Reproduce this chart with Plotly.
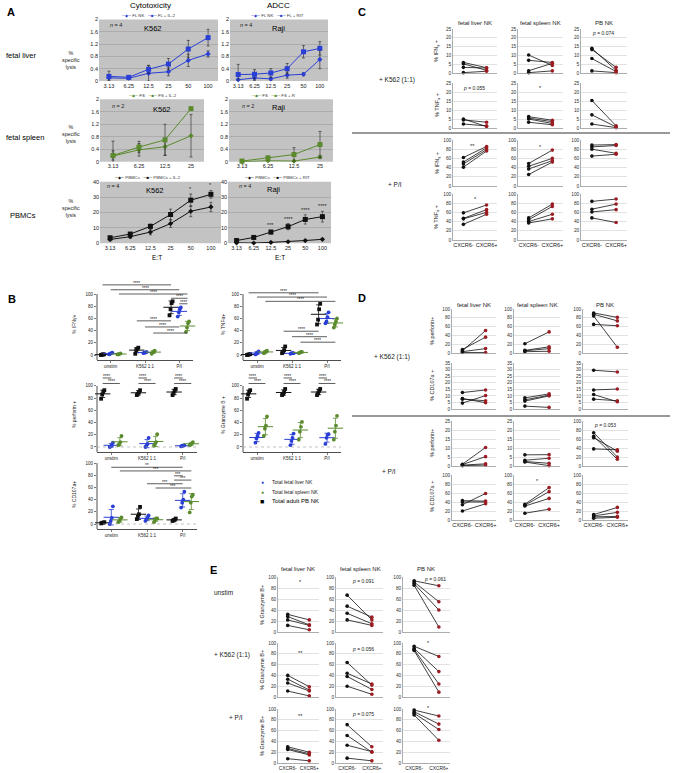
import numpy as np
import plotly.graph_objects as go

W, H = 673, 773
FONT = "Liberation Sans, Arial, sans-serif"
BLUE = "#2a3fd6"
GREEN = "#5a8a2c"
RED = "#9b1c22"
GRAYBG = "#c3c3c3"

# ---------------- Panel A data ----------------
ET_LABELS = ["3.13", "6.25", "12.5", "25", "50", "100"]
FL_K562_NK = [0.10, 0.09, 0.25, 0.30, 0.67, 0.88]
FL_K562_NK_SD = [0.08, 0.04, 0.25, 0.13, 0.20, 0.10]
FL_K562_IL2 = [0.15, 0.12, 0.38, 0.55, 1.04, 1.41]
FL_K562_IL2_SD = [0.17, 0.05, 0.13, 0.18, 0.28, 0.27]
FL_RAJI_NK = [0.04, 0.10, 0.07, 0.19, 0.22, 0.70]
FL_RAJI_NK_SD = [0.04, 0.08, 0.05, 0.10, 0.05, 0.30]
FL_RAJI_RIT = [0.21, 0.22, 0.26, 0.40, 0.95, 1.06]
FL_RAJI_RIT_SD = [0.33, 0.15, 0.14, 0.17, 0.20, 0.22]
FS_K562_NK = [0.18, 0.38, 0.48, 0.83]
FS_K562_NK_SD = [0.48, 0.20, 0.27, 0.68]
FS_K562_IL2 = [0.20, 0.47, 0.70, 1.70]
FS_K562_IL2_SD = [0.15, 0.18, 0.50, 0.0]
FS_RAJI_NK = [0.00, 0.03, 0.02, 0.15]
FS_RAJI_NK_SD = [0.01, 0.03, 0.02, 0.05]
FS_RAJI_R = [0.02, 0.12, 0.23, 0.55]
FS_RAJI_R_SD = [0.02, 0.06, 0.22, 0.42]
PB_K562 = [2.5, 4.3, 7.3, 12.8, 20.8, 23.6]
PB_K562_SD = [1.0, 1.0, 1.8, 2.5, 3.5, 3.0]
PB_K562_IL2 = [3.6, 6.0, 11.0, 18.7, 28.0, 31.8]
PB_K562_IL2_SD = [1.0, 1.0, 1.5, 3.5, 4.0, 2.5]
PB_RAJI = [0.3, 0.2, 0.6, 1.0, 1.8, 2.6]
PB_RAJI_SD = [0.3, 0.2, 0.3, 0.4, 0.4, 0.5]
PB_RAJI_RIT = [1.8, 3.8, 7.3, 10.8, 15.5, 17.3]
PB_RAJI_RIT_SD = [0.8, 0.8, 1.2, 2.0, 3.0, 3.5]
PB_K562_STARS = ["", "", "", "", "*", "*"]
PB_RAJI_STARS = ["", "", "***", "****", "****", "****"]

# ---------------- Panel B data ----------------
B_CATS = ["unstim", "K562 1:1", "P/I"]
IFN_PB = [[0, 0.5, 1, 1], [2, 8, 10, 12], [65, 75, 85, 88]]
IFN_FL = [[1, 2, 3, 4], [3, 4, 4, 5], [63, 70, 75, 78]]
IFN_FS = [[1, 1, 2, 2.5], [2, 4, 6, 7], [38, 45, 52, 55]]
TNF_PB = [[0, 0.5, 1, 1.5], [3, 5, 8, 14], [50, 58, 75, 84]]
TNF_FL = [[1, 2, 4, 6], [2, 3, 3, 3], [52, 55, 62, 70]]
TNF_FS = [[3, 4, 6, 7], [3, 4, 5, 5], [45, 50, 55, 60]]
PERF_PB = [[79, 86, 90, 93], [85, 87, 90, 93], [85, 88, 92, 95]]
PERF_FL = [[0, 1, 3, 7], [0, 2, 5, 15], [1, 2, 2, 3]]
PERF_FS = [[3, 5, 8, 18], [2, 5, 8, 21], [3, 4, 6, 8]]
GZB_PB = [[79, 86, 90, 93], [85, 87, 90, 95], [85, 88, 92, 95]]
GZB_FL = [[7, 14, 18, 23], [3, 10, 15, 22], [5, 15, 20, 21]]
GZB_FS = [[18, 30, 35, 50], [12, 25, 33, 41], [12, 25, 35, 51]]
CD107_PB = [[1, 2, 2, 3], [8, 12, 16, 28], [5, 6, 7, 9]]
CD107_FL = [[0, 5, 10, 29], [5, 8, 10, 14], [27, 35, 40, 53]]
CD107_FS = [[3, 5, 8, 11], [3, 7, 9, 9], [19, 35, 45, 48]]
# (cat1, group1, cat2, group2, bar height, label)
IFN_SIG = [(0, 0, 2, 0, 115, "****"), (0, 1, 2, 1, 107, "****"), (0, 2, 2, 2, 100, "****"),
           (2, 0, 2, 2, 93, "****"), (2, 1, 2, 2, 84, "****"), (1, 0, 2, 0, 56, "****"),
           (1, 1, 2, 1, 46, "****"), (1, 2, 2, 2, 36, "****")]
TNF_SIG = [(0, 0, 2, 0, 102, "****"), (0, 1, 2, 1, 95, "****"), (0, 2, 2, 2, 88, "****"),
           (1, 0, 2, 0, 39, "****"), (1, 1, 2, 1, 30, "****"), (1, 2, 2, 2, 21, "****")]
PAIR_SIG = [(c, 0, c, g, h, "****") for c in range(3) for g, h in ((1, 113), (2, 104))]
CD107_SIG = [(0, 1, 2, 1, 93, "**"), (0, 2, 2, 2, 87, "***"), (2, 0, 2, 1, 79, "***"),
             (2, 0, 2, 2, 72, "***"), (1, 1, 2, 1, 66, "***"), (1, 2, 2, 2, 59, "***")]

# ---------------- Panels C/D/E data (columns: fetal liver, fetal spleen, PB) ----------------
C_IFN_K562_NEG = [[6.0, 5.2, 3.2, 0.2], [10.2, 7.2, 1.3, 0.2], [14.0, 13.3, 8.2, 1.2]]
C_IFN_K562_POS = [[3.0, 1.5, 2.8, 1.0], [4.3, 6.0, 5.5, 1.2], [1.5, 3.2, 0.8, 0.2]]
C_TNF_K562_NEG = [[5.0, 4.5, 2.2], [6.3, 5.5, 5.0, 3.2], [15.3, 7.3, 2.2]]
C_TNF_K562_POS = [[0.8, 3.2, 1.2], [4.3, 3.5, 2.5, 1.8], [1.2, 0.6, 0.2]]
C_IFN_PI_NEG = [[62, 52, 48, 41], [49, 43, 37, 25], [89, 85, 80, 65]]
C_IFN_PI_POS = [[86, 83, 79, 76], [78, 60, 55, 52], [90, 88, 71, 69]]
C_TNF_PI_NEG = [[59, 47, 46, 34], [48, 44, 40, 37], [84, 67, 61, 48]]
C_TNF_PI_POS = [[76, 66, 60, 56], [78, 73, 56, 46], [89, 78, 66, 38]]

D_PERF_K562_NEG = [[5, 8, 3, 1], [21, 6, 5, 3], [91, 88, 84, 65]]
D_PERF_K562_POS = [[51, 36, 10, 1], [48, 14, 10, 4], [81, 73, 13, 62]]
D_CD107_K562_NEG = [[12.5, 8.0, 7.5, 4.5], [8.5, 7.0, 6.0, 2.2], [29.5, 14.5, 11.0, 7.5]]
D_CD107_K562_POS = [[14.5, 4.8, 6.3, 10.2], [11.5, 10.5, 10.0, 1.2], [28.2, 15.2, 5.5, 6.3]]
D_PERF_PI_NEG = [[1.0, 0.8, 0.5, 0.2], [6.2, 3.2, 2.5, 2.2], [74, 66, 63, 38]]
D_PERF_PI_POS = [[10.3, 5.2, 1.2, 0.5], [6.3, 4.3, 1.5, 0.2], [20, 15, 33, 36]]
D_CD107_PI_NEG = [[43, 40, 34, 20], [35, 33, 31, 15], [12, 9, 7, 4]]
D_CD107_PI_POS = [[42, 40, 59, 36], [72, 63, 48, 24], [28, 17, 8, 6]]

E_UN_NEG = [[32, 28, 22, 12], [67, 47, 34, 22], [93, 91, 88, 85]]
E_UN_POS = [[22, 13, 12, 4], [22, 27, 15, 12], [84, 55, 40, 9]]
E_K562_NEG = [[40, 33, 26, 11], [64, 44, 38, 20], [94, 90, 88, 86]]
E_K562_POS = [[19, 13, 11, 2], [22, 24, 14, 5], [75, 47, 24, 9]]
E_PI_NEG = [[30, 27, 25, 8], [71, 51, 33, 9], [98, 95, 92, 89]]
E_PI_POS = [[20, 17, 15, 4], [30, 20, 21, 4], [87, 72, 62, 42]]

PAIR_LABELS = ["CXCR6-", "CXCR6+"]
COL_TITLES = ["fetal liver NK", "fetal spleen NK", "PB NK"]

# ---------------- helpers ----------------
fig = go.Figure()
layout_axes = {}
shapes = []
annotations = []
_n = [0]


def px(x):
    return x / W


def py(y):
    return 1 - y / H


def new_axes(x0, x1, ytop, ybot, xkw, ykw):
    _n[0] += 1
    n = _n[0]
    s = "" if n == 1 else str(n)
    base = dict(automargin=False, fixedrange=True, zeroline=False, tickangle=0)
    layout_axes["xaxis" + s] = dict(domain=[px(x0), px(x1)], anchor="y" + s, **base, **xkw)
    layout_axes["yaxis" + s] = dict(domain=[py(ybot), py(ytop)], anchor="x" + s, **base, **ykw)
    return "x" + s, "y" + s


def txt(x, y, s, size=6, xanchor="center", angle=0, color="#1a1a1a", bold=False):
    if bold:
        s = "<b>" + s + "</b>"
    annotations.append(dict(xref="paper", yref="paper", x=px(x), y=py(y), text=s, showarrow=False,
                            xanchor=xanchor, yanchor="middle", textangle=angle,
                            font=dict(size=size, color=color, family=FONT)))


def hline(x0, x1, y, color="#777", width=1.5):
    shapes.append(dict(type="line", xref="paper", yref="paper", x0=px(x0), x1=px(x1), y0=py(y), y1=py(y),
                       line=dict(color=color, width=width)))


# ---------------- Panel A ----------------
def panel_a(x0, x1, ytop, ybot, ymax, dtick, labels, s1, s1sd, s2, s2sd, color, stars=None):
    xr, yr = new_axes(x0, x1, ytop, ybot,
                      dict(range=[-0.5, len(labels) - 0.5], tickvals=list(range(len(labels))), ticktext=labels,
                           showgrid=False, showline=False, ticks="", tickfont=dict(size=5.5, color="#222")),
                      dict(range=[0, ymax], dtick=dtick, showgrid=True, gridcolor="#9c9c9c", gridwidth=0.6,
                           showline=False, ticks="", tickfont=dict(size=5.5, color="#222")))
    shapes.append(dict(type="rect", xref=xr + " domain", yref=yr + " domain", x0=0, x1=1, y0=0, y1=1,
                       fillcolor=GRAYBG, line=dict(width=0), layer="below"))
    x = list(range(len(labels)))
    for vals, sd, sym, size in ((s1, s1sd, "diamond", 4), (s2, s2sd, "square", 5)):
        fig.add_trace(go.Scatter(x=x, y=vals, xaxis=xr, yaxis=yr, mode="lines+markers",
                                 line=dict(color=color, width=1),
                                 marker=dict(symbol=sym, size=size, color=color),
                                 error_y=dict(type="data", array=sd, color="#222", thickness=0.6, width=1.5),
                                 showlegend=False, cliponaxis=False, hoverinfo="skip"))
    if stars:
        tops = np.maximum(np.array(s1) + np.array(s1sd), np.array(s2) + np.array(s2sd))
        for i, st in enumerate(stars):
            if st:
                annotations.append(dict(xref=xr, yref=yr, x=i, y=tops[i], text=st, showarrow=False,
                                        yanchor="bottom", font=dict(size=5.5, color="#222", family=FONT)))
    return xr, yr


panel_a(99, 218, 19.5, 81, 2, 0.4, ET_LABELS, FL_K562_NK, FL_K562_NK_SD, FL_K562_IL2, FL_K562_IL2_SD, BLUE)
panel_a(230, 328, 19.5, 81, 2, 0.4, ET_LABELS, FL_RAJI_NK, FL_RAJI_NK_SD, FL_RAJI_RIT, FL_RAJI_RIT_SD, BLUE)
panel_a(100, 204, 99.3, 161.7, 2, 0.4, ET_LABELS[:4], FS_K562_NK, FS_K562_NK_SD, FS_K562_IL2, FS_K562_IL2_SD, GREEN)
panel_a(229, 333, 99.3, 161.7, 2, 0.4, ET_LABELS[:4], FS_RAJI_NK, FS_RAJI_NK_SD, FS_RAJI_R, FS_RAJI_R_SD, GREEN)
panel_a(100, 221, 181.7, 243.3, 40, 10, ET_LABELS, PB_K562, PB_K562_SD, PB_K562_IL2, PB_K562_IL2_SD, "#111",
        PB_K562_STARS)
panel_a(228, 331, 181.7, 243.3, 40, 10, ET_LABELS, PB_RAJI, PB_RAJI_SD, PB_RAJI_RIT, PB_RAJI_RIT_SD, "#111",
        PB_RAJI_STARS)


def legend_a(x, y, color, n1, n2):
    s = (f'<span style="color:{color}">─◆─</span> {n1}   '
         f'<span style="color:{color}">─■─</span> {n2}')
    txt(x, y, s, size=4.3, color="#333")


txt(11, 12, "A", 11, bold=True, color="#000")
txt(150, 6, "Cytotoxicity", 8, color="#000")
txt(278, 6, "ADCC", 8, color="#000")
legend_a(148, 15, BLUE, "FL NK", "FL + IL-2")
legend_a(277, 15, BLUE, "FL NK", "FL + RIT")
legend_a(152, 96, GREEN, "FS", "FS + IL-2")
legend_a(273, 96, GREEN, "FS", "FS + R")
legend_a(147, 177.5, "#111", "PBMCs", "PBMCs + IL-2")
legend_a(277, 177.5, "#111", "PBMCs", "PBMCs + RIT")
txt(4, 55, "fetal liver", 7.5, xanchor="left", color="#000")
txt(4, 137, "fetal spleen", 7.5, xanchor="left", color="#000")
txt(8, 216, "PBMCs", 7.5, xanchor="left", color="#000")
for yy in (60, 134, 208):
    txt(71, yy, "%<br>specific<br>lysis", 5.3)
for (xx, yy, nn) in ((108, 25, "4"), (238, 25, "4"), (110, 106, "2"), (240, 106, "2"), (105, 186, "4"),
                     (237, 186, "4")):
    txt(xx, yy, f"<i>n</i> = {nn}", 5.5, xanchor="left")
txt(153, 28, "K562", 7.5, color="#000")
txt(278, 28, "Raji", 7.5, color="#000")
txt(162, 109, "K562", 7.5, color="#000")
txt(278, 108, "Raji", 7.5, color="#000")
txt(155, 191, "K562", 7.5, color="#000")
txt(273, 190, "Raji", 7.5, color="#000")
txt(157, 257, "E:T", 6.5, color="#000")
txt(280, 257, "E:T", 6.5, color="#000")

# ---------------- Panel B ----------------
GROUP_OFF = [-0.24, 0.0, 0.24]
JITTER = [-0.045, -0.015, 0.015, 0.045]
GROUP_COL = ["#111111", BLUE, GREEN]
GROUP_SYM = ["square", "circle", "circle"]


def panel_b(x0, x1, ytop, ybot, yr_rng, groups, sigs, dotted):
    xr, yr = new_axes(x0, x1, ytop, ybot,
                      dict(range=[-0.4, 2.4], tickvals=[0, 1, 2], ticktext=B_CATS, showgrid=False,
                           showline=True, linecolor="#222", linewidth=0.8, ticks="outside", ticklen=2,
                           tickwidth=0.6, tickcolor="#222", tickfont=dict(size=4.5, color="#222")),
                      dict(range=yr_rng, tickvals=[0, 20, 40, 60, 80, 100], showgrid=False, showline=False,
                           ticks="outside", ticklen=2, tickwidth=0.6, tickcolor="#222",
                           tickfont=dict(size=4.5, color="#222")))
    shapes.append(dict(type="line", xref=xr + " domain", yref=yr, x0=0, x1=0, y0=yr_rng[0], y1=100,
                       line=dict(color="#222", width=0.8)))
    if dotted:
        shapes.append(dict(type="line", xref=xr + " domain", yref=yr, x0=0, x1=1, y0=0, y1=0,
                           line=dict(color="#999", width=0.6, dash="dot")))
    for g, data in enumerate(groups):
        for c, vals in enumerate(data):
            xs = [c + GROUP_OFF[g] + JITTER[i % len(JITTER)] for i in range(len(vals))]
            fig.add_trace(go.Scatter(x=xs, y=vals, xaxis=xr, yaxis=yr, mode="markers",
                                     marker=dict(symbol=GROUP_SYM[g], size=3.8, color=GROUP_COL[g]),
                                     showlegend=False, cliponaxis=False, hoverinfo="skip"))
            fig.add_trace(go.Scatter(x=[c + GROUP_OFF[g]], y=[float(np.mean(vals))], xaxis=xr, yaxis=yr,
                                     mode="markers",
                                     marker=dict(symbol="line-ew", size=11, color=GROUP_COL[g],
                                                 line=dict(width=1, color=GROUP_COL[g])),
                                     error_y=dict(type="data", array=[float(np.std(vals, ddof=1))],
                                                  color=GROUP_COL[g], thickness=0.8, width=2.5),
                                     showlegend=False, cliponaxis=False, hoverinfo="skip"))
    for c1, g1, c2, g2, yv, lab in sigs:
        xa = c1 + GROUP_OFF[g1]
        xb = c2 + GROUP_OFF[g2]
        shapes.append(dict(type="line", xref=xr, yref=yr, x0=xa, x1=xb, y0=yv, y1=yv,
                           line=dict(color="#333", width=0.8)))
        annotations.append(dict(xref=xr, yref=yr, x=(xa + xb) / 2, y=yv, text=lab, showarrow=False,
                                yanchor="bottom", yshift=-3, font=dict(size=4.6, color="#222", family=FONT)))


panel_b(97, 193, 282, 360, [-8.2, 119.7], [IFN_PB, IFN_FL, IFN_FS], IFN_SIG, False)
panel_b(243, 341, 282, 360, [-8.2, 119.7], [TNF_PB, TNF_FL, TNF_FS], TNF_SIG, False)
panel_b(97, 197, 374, 452, [-8.2, 119.5], [PERF_PB, PERF_FL, PERF_FS], PAIR_SIG, True)
panel_b(243, 341, 374, 452, [-8.2, 119.5], [GZB_PB, GZB_FL, GZB_FS], PAIR_SIG, True)
panel_b(97, 197, 458, 529, [-8.2, 108.2], [CD107_PB, CD107_FL, CD107_FS], CD107_SIG, True)

txt(12, 299, "B", 11, bold=True, color="#000")
txt(74, 325, "% IFNγ+", 5, angle=-90)
txt(223, 325, "% TNFα+", 5, angle=-90)
txt(74, 415, "% perforin +", 5, angle=-90)
txt(223, 415, "% Granzyme B +", 5, angle=-90)
txt(74, 495, "% CD107a+", 5, angle=-90)
txt(262, 482, "●", 5, color=BLUE)
txt(262, 492, "●", 5, color=GREEN)
txt(262, 501, "■", 7, color="#000")
txt(270, 482, "Total fetal liver NK", 5, xanchor="left")
txt(270, 492, "Total fetal spleen NK", 5, xanchor="left")
txt(270, 501, "Total adult PB NK", 6, xanchor="left", color="#000")


# ---------------- Panels C / D / E ----------------
def paired(x0, x1, ytop, ybot, ymax, dtick, neg, pos, show_x, xfont=5.5):
    xr, yr = new_axes(x0, x1, ytop, ybot,
                      dict(range=[-0.45, 1.45], tickvals=[0, 1], ticktext=PAIR_LABELS, showticklabels=show_x,
                           showgrid=False, showline=True, linecolor="#999", linewidth=0.8, ticks="",
                           tickfont=dict(size=xfont, color="#222")),
                      dict(range=[0, ymax], dtick=dtick, showgrid=True, gridcolor="#cfcfcf", gridwidth=0.6,
                           showline=True, linecolor="#999", linewidth=0.8, ticks="",
                           tickfont=dict(size=4.8, color="#333")))
    lx, ly = [], []
    for a, b in zip(neg, pos):
        lx += [0, 1, None]
        ly += [a, b, None]
    fig.add_trace(go.Scatter(x=lx, y=ly, xaxis=xr, yaxis=yr, mode="lines", line=dict(color="#111", width=0.8),
                             showlegend=False, cliponaxis=False, hoverinfo="skip"))
    fig.add_trace(go.Scatter(x=[0] * len(neg), y=neg, xaxis=xr, yaxis=yr, mode="markers",
                             marker=dict(color="#111", size=3.6), showlegend=False, cliponaxis=False,
                             hoverinfo="skip"))
    fig.add_trace(go.Scatter(x=[1] * len(pos), y=pos, xaxis=xr, yaxis=yr, mode="markers",
                             marker=dict(color=RED, size=3.6), showlegend=False, cliponaxis=False,
                             hoverinfo="skip"))


C_X = [(453, 497), (518, 563), (581, 627)]
C_Y = [(29, 73), (83, 128), (140, 186), (194, 240)]
C_ROWS = [(C_IFN_K562_NEG, C_IFN_K562_POS, [25] * 3), (C_TNF_K562_NEG, C_TNF_K562_POS, [25] * 3),
          (C_IFN_PI_NEG, C_IFN_PI_POS, [100] * 3), (C_TNF_PI_NEG, C_TNF_PI_POS, [100] * 3)]
for r, (neg, pos, tops) in enumerate(C_ROWS):
    for c in range(3):
        paired(C_X[c][0], C_X[c][1], C_Y[r][0], C_Y[r][1], tops[c], 5 if tops[c] == 25 else 20,
               neg[c], pos[c], r == 3)

D_X = [(452, 496), (514, 560), (583, 628)]
D_Y = [(309, 353), (363, 409), (421, 466), (475, 520)]
D_ROWS = [(D_PERF_K562_NEG, D_PERF_K562_POS, [100] * 3), (D_CD107_K562_NEG, D_CD107_K562_POS, [35] * 3),
          (D_PERF_PI_NEG, D_PERF_PI_POS, [25, 25, 100]), (D_CD107_PI_NEG, D_CD107_PI_POS, [100] * 3)]
for r, (neg, pos, tops) in enumerate(D_ROWS):
    for c in range(3):
        paired(D_X[c][0], D_X[c][1], D_Y[r][0], D_Y[r][1], tops[c], 20 if tops[c] == 100 else 5,
               neg[c], pos[c], r == 3)

E_X = [(278, 319), (336, 383), (403, 450)]
E_Y = [(577, 632), (643, 697), (709, 763)]
E_ROWS = [(E_UN_NEG, E_UN_POS), (E_K562_NEG, E_K562_POS), (E_PI_NEG, E_PI_POS)]
for r, (neg, pos) in enumerate(E_ROWS):
    for c in range(3):
        paired(E_X[c][0], E_X[c][1], E_Y[r][0], E_Y[r][1], 100, 20, neg[c], pos[c], r == 2, xfont=4.8)

# C texts
txt(362, 12, "C", 11, bold=True, color="#000")
for (cx, t) in zip((475, 540, 604), COL_TITLES):
    txt(cx, 23, t, 6)
txt(397, 80, "+ K562 (1:1)", 6.5)
txt(395, 185, "+ P/I", 6.5)
txt(437, 51, "% IFN<sub>γ</sub> +", 5.5, angle=-90)
txt(437, 105, "% TNF<sub>α</sub> +", 5.5, angle=-90)
txt(437, 163, "% IFN<sub>γ</sub> +", 5.5, angle=-90)
txt(437, 217, "% TNF<sub>α</sub> +", 5.5, angle=-90)
txt(603, 33, "<i>p</i> = 0.074", 5)
txt(474, 88, "<i>p</i> = 0.055", 5)
txt(540, 88, "*", 5.5)
txt(473, 146, "**", 5.5)
txt(540, 147, "*", 5.5)
txt(475, 199, "*", 5.5)
hline(352, 670, 133)

# D texts
txt(362, 298, "D", 11, bold=True, color="#000")
for (cx, t) in zip((474, 537, 605), COL_TITLES):
    txt(cx, 305, t, 6)
txt(392, 357, "+ K562 (1:1)", 6.5)
txt(389, 471, "+ P/I", 6.5)
txt(432, 331, "% perforin+", 5.5, angle=-90)
txt(432, 386, "% CD107a +", 5.5, angle=-90)
txt(432, 443, "% perforin+", 5.5, angle=-90)
txt(432, 497, "% CD107a +", 5.5, angle=-90)
txt(605, 425, "<i>p</i> = 0.053", 5)
txt(537, 481, "*", 5.5)
hline(352, 670, 416)

# E texts
txt(213, 570, "E", 11, bold=True, color="#000")
for (cx, t) in zip((298, 360, 426), COL_TITLES):
    txt(cx, 569, t, 6)
txt(212, 592, "unstim", 6.5, xanchor="left")
txt(212, 655, "+ K562 (1:1)", 6.5, xanchor="left")
txt(227, 717, "+ P/I", 6.5, xanchor="left")
for yy in (605, 670, 736):
    txt(262, yy, "% Granzyme B+", 5.5, angle=-90)
txt(300, 582, "*", 5.5)
txt(363, 581, "<i>p</i> = 0.091", 5)
txt(435, 579, "<i>p</i> = 0.061", 5)
txt(300, 653, "**", 5.5)
txt(363, 649, "<i>p</i> = 0.056", 5)
txt(429, 643, "*", 5.5)
txt(300, 716, "**", 5.5)
txt(363, 714, "<i>p</i> = 0.075", 5)
txt(429, 708, "*", 5.5)

fig.update_layout(template="none", width=W, height=H, autosize=False, margin=dict(l=0, r=0, t=0, b=0),
                  paper_bgcolor="white", plot_bgcolor="rgba(0,0,0,0)",
                  font=dict(family=FONT, size=6, color="#222"),
                  shapes=shapes, annotations=annotations, showlegend=False, **layout_axes)

fig.write_html("out.html", config={"displayModeBar": False, "staticPlot": True},
               post_script="document.body.style.margin='0';")
